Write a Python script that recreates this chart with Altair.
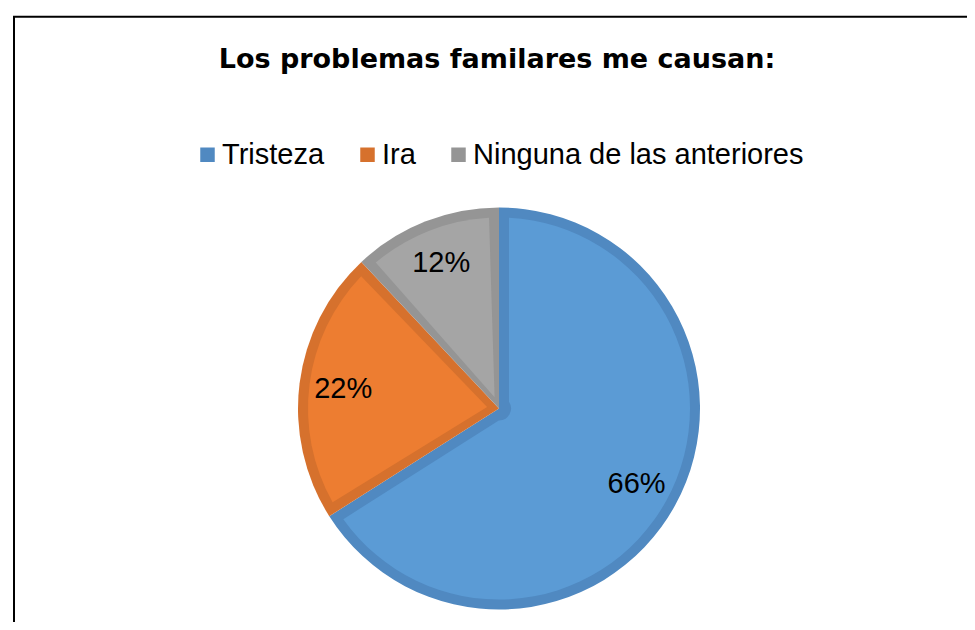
import math
import altair as alt
import pandas as pd

# ---- data ----
categories = ["Tristeza", "Ira", "Ninguna de las anteriores"]
values = [66, 22, 12]
title_text = "Los problemas familares me causan:"

fill_colors = ["#5B9BD5", "#ED7D31", "#A5A5A5"]
band_colors = ["#5089C1", "#D6712D", "#959595"]

df = pd.DataFrame({
    "Categoria": categories,
    "value": values,
    "idx": list(range(len(categories))),
})

W, H = 959, 614
CX, CY = 491, 400.5          # pie centre inside the view
R_OUT = 201                  # outer radius incl. border band
BAND = 10                    # border band width
R_IN = R_OUT - BAND
INNER = 12
pad_r = math.sqrt(INNER ** 2 + R_IN ** 2)
PAD = 2 * math.asin(BAND / pad_r)

base = alt.Chart(df).encode(
    theta=alt.Theta("value:Q", stack=True),
    order=alt.Order("idx:Q"),
)

dark = base.mark_arc(outerRadius=R_OUT, stroke=None).encode(
    color=alt.Color(
        "Categoria:N",
        scale=alt.Scale(domain=categories, range=band_colors),
        legend=alt.Legend(
            orient="none", legendX=185, legendY=132, direction="horizontal",
            title=None, symbolType="square", symbolSize=210, symbolStrokeWidth=0,
            symbolOpacity=1,
            labelFontSize=29, labelFont="Liberation Sans", labelColor="black",
            labelOffset=0, columnPadding=28, labelLimit=600, padding=0,
        ),
    ),
    x=alt.value(CX), y=alt.value(CY),
)

light = base.mark_arc(outerRadius=R_IN, innerRadius=INNER, padAngle=PAD, stroke=None).encode(
    fill=alt.Fill(
        "Categoria:N",
        scale=alt.Scale(domain=categories, range=fill_colors),
        legend=None,
    ),
    x=alt.value(CX), y=alt.value(CY),
)

labels = base.transform_calculate(label="datum.value + '%'").mark_text(
    radius=157, fontSize=29, font="Liberation Sans", color="black",
    align="center", baseline="middle",
).encode(
    text="label:N",
    x=alt.value(CX), y=alt.value(CY),
)

one = pd.DataFrame({"k": [0]})
title = alt.Chart(one).mark_text(
    text=title_text, fontSize=27, font="DejaVu Sans", fontWeight="bold",
    color="black", align="center", baseline="alphabetic",
).encode(x=alt.value(489), y=alt.value(60))

border_left = alt.Chart(one).mark_rule(color="black", strokeWidth=2).encode(
    x=alt.value(6), y=alt.value(8.7), y2=alt.value(H)
)
border_top = alt.Chart(one).mark_rule(color="black", strokeWidth=2).encode(
    x=alt.value(5), x2=alt.value(W), y=alt.value(8.7)
)

chart = alt.layer(dark, light, labels, title, border_left, border_top).properties(
    width=W, height=H, autosize=alt.AutoSizeParams(type="none"),
    padding=0, background="white",
).configure_view(stroke=None)

chart.save("out.html", embed_options={"renderer": "svg", "actions": False})
